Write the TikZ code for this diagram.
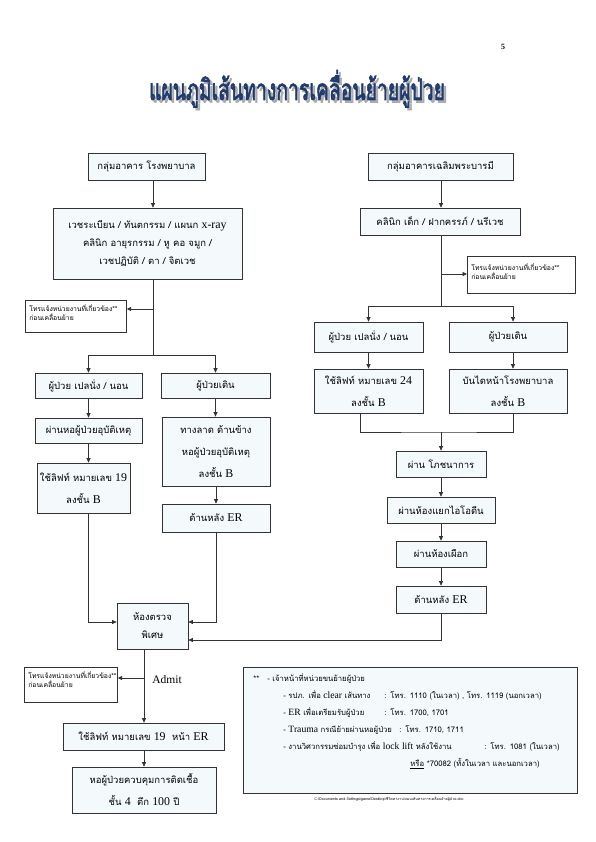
\documentclass[tikz,border=0pt]{standalone}
\usepackage{fontspec}
\setmainfont{Liberation Serif}
\newfontfamily\thaifont[Script=Thai]{Loma}
\newfontfamily\titlefont[Script=Thai, FakeBold=2.5]{Loma}
\newfontfamily\enfont[Scale=1.25]{Liberation Serif}
\newcommand{\en}[1]{{\enfont #1}}
\newcommand{\titletext}{แผนภูมิเส้นทางการเคลื่อนย้ายผู้ป่วย}
\usetikzlibrary{arrows.meta, positioning}

\definecolor{boxfill}{HTML}{F4FAFC}
\definecolor{boxline}{HTML}{333333}
\definecolor{titleblue}{HTML}{1F3A6E}

\begin{document}
\begin{tikzpicture}[
  x=1pt, y=-1pt,
  box/.style={rectangle, draw=boxline, fill=boxfill, line width=0.7pt,
              align=center, inner sep=1pt,
              font=\thaifont\fontsize{9.5}{22}\selectfont},
  note/.style={rectangle, draw=boxline, fill=white, line width=0.7pt,
               align=left, inner sep=4pt, anchor=north west,
               font=\thaifont\fontsize{6.8}{9}\selectfont},
  arr/.style={-{Triangle[length=4.5pt,width=4pt]}, line width=0.7pt, boxline},
  conn/.style={line width=0.7pt, boxline}
]
\useasboundingbox[fill=white] (0,0) rectangle (595,842);

% Title and page number
\node[font=\bfseries\fontsize{8}{8}\selectfont] (pageno) at (503,47) {5};
\node[titleblue, font=\titlefont] (title) at (297,90)
  {\makebox[0pt][l]{\kern2.5pt\raisebox{-2.5pt}{\color{gray!65}\resizebox{296pt}{30pt}{\titletext}}}%
   \resizebox{296pt}{30pt}{\titletext}};

% Left column (hospital building)
\node[box, minimum width=117pt, minimum height=27pt] (hospL) at (146.5,166.5) {กลุ่มอาคาร โรงพยาบาล};
\node[box, minimum width=189pt, minimum height=71pt, font=\thaifont\fontsize{9.5}{18}\selectfont] (deptL) at (147.5,243.5)
  {เวชระเบียน / ทันตกรรม / แผนก \en{x-ray}\\คลินิก อายุรกรรม / หู คอ จมูก /\\เวชปฏิบัติ / ตา / จิตเวช};
\node[note, text width=93pt, text depth=17pt] (noteL1) at (25,300)
  {โทรแจ้งหน่วยงานที่เกี่ยวข้อง**\\ก่อนเคลื่อนย้าย};
\node[box, minimum width=107pt, minimum height=25pt] (patL) at (88.5,385.5) {ผู้ป่วย เปลนั่ง / นอน};
\node[box, minimum width=109pt, minimum height=25pt] (walkL) at (215.5,385.5) {ผู้ป่วยเดิน};
\node[box, minimum width=107pt, minimum height=25pt] (trauL) at (88.5,430.5) {ผ่านหอผู้ป่วยอุบัติเหตุ};
\node[box, minimum width=93pt, minimum height=50pt] (liftL) at (83.5,488) {ใช้ลิฟท์ หมายเลข \en{19}\\ลงชั้น \en{B}};
\node[box, minimum width=108pt, minimum height=69pt] (rampL) at (216,451.5)
  {ทางลาด ด้านข้าง\\หอผู้ป่วยอุบัติเหตุ\\ลงชั้น \en{B}};
\node[box, minimum width=108pt, minimum height=28pt] (erL) at (216,518) {ด้านหลัง \en{ER}};

% Examination room and admission
\node[box, minimum width=71pt, minimum height=46pt, font=\thaifont\fontsize{9.5}{18}\selectfont] (exam) at (152.5,626) {ห้องตรวจ\\พิเศษ};
\node[note, text width=85pt, text depth=20pt] (noteL2) at (24,667)
  {โทรแจ้งหน่วยงานที่เกี่ยวข้อง**\\ก่อนเคลื่อนย้าย};
\node[font=\fontsize{11.5}{12}\selectfont] (admitlbl) at (167,680) {Admit};
\node[box, minimum width=161pt, minimum height=27pt] (liftER) at (143.5,736.5) {ใช้ลิฟท์ หมายเลข \en{19}~~หน้า \en{ER}};
\node[box, minimum width=144pt, minimum height=46pt] (icu) at (144,790)
  {หอผู้ป่วยควบคุมการติดเชื้อ\\ชั้น \en{4}~~ตึก \en{100} ปี};

% Right column (Chaloem Phrabarami building)
\node[box, minimum width=145pt, minimum height=27pt] (hospR) at (440.5,166.5) {กลุ่มอาคารเฉลิมพระบารมี};
\node[box, minimum width=160pt, minimum height=27pt] (deptR) at (440,221.5) {คลินิก เด็ก / ฝากครรภ์ / นรีเวช};
\node[note, text width=100pt, inner sep=4pt, text depth=19pt] (noteR) at (467,256)
  {\rule{0pt}{10pt}โทรแจ้งหน่วยงานที่เกี่ยวข้อง**\\ก่อนเคลื่อนย้าย};
\node[box, minimum width=109pt, minimum height=30pt] (patR) at (368.5,337) {ผู้ป่วย เปลนั่ง / นอน};
\node[box, minimum width=118pt, minimum height=30pt] (walkR) at (508,337) {ผู้ป่วยเดิน};
\node[box, minimum width=109pt, minimum height=44pt] (liftR) at (368.5,391) {ใช้ลิฟท์ หมายเลข \en{24}\\ลงชั้น \en{B}};
\node[box, minimum width=118pt, minimum height=44pt] (stairR) at (508,391) {บันไดหน้าโรงพยาบาล\\ลงชั้น \en{B}};
\node[box, minimum width=90pt, minimum height=26pt] (nutR) at (441,464) {ผ่าน โภชนาการ};
\node[box, minimum width=108pt, minimum height=26pt] (iodR) at (441,510) {ผ่านห้องแยกไอโอดีน};
\node[box, minimum width=90pt, minimum height=26pt] (albR) at (441,554) {ผ่านห้องเผือก};
\node[box, minimum width=90pt, minimum height=27pt] (erR) at (441,599.5) {ด้านหลัง \en{ER}};

% Helper coordinates
\coordinate (lsplit) at (153,355);
\coordinate (lnote) at (153,309);
\coordinate (exin) at (0,622);
\coordinate (exR) at (0,640);
\coordinate (admit) at (144,678);
\coordinate (rsplit) at (441,306);
\coordinate (rnote) at (441,274);
\coordinate (rleft) at (360,0);
\coordinate (rright) at (513,0);
\coordinate (rmerge) at (441,432);

% Left connectors
\draw[arr] (hospL.south -| lsplit) -- (deptL.north -| lsplit);
\draw[conn] (deptL.south -| lsplit) -- (lsplit);
\draw[arr] (lnote) -- (lnote -| noteL1.east);
\draw[arr] (lsplit) -| (patL.north);
\draw[arr] (lsplit) -| (walkL.north);
\draw[arr] (patL) -- (trauL);
\draw[arr] (trauL.south) -- (liftL.north -| trauL.south);
\draw[arr] (walkL.south) -- (walkL.south |- rampL.north);
\draw[arr] (rampL) -- (erL);
\draw[arr] (liftL.south -| trauL.south) |- (exam.west |- exin);
\draw[arr] (erL.south) |- (exam.east |- exin);

% Right connectors
\draw[arr] (hospR.south -| rsplit) -- (deptR.north -| rsplit);
\draw[conn] (deptR.south -| rsplit) -- (rsplit);
\draw[arr] (rnote) -- (rnote -| noteR.west);
\draw[arr] (rsplit) -| (patR.north);
\draw[arr] (rsplit) -| (walkR.north -| rright);
\draw[arr] (patR) -- (liftR);
\draw[arr] (walkR.south -| rright) -- (stairR.north -| rright);
\draw[conn] (liftR.south -| rleft) |- (rmerge) -| (stairR.south -| rright);
\draw[arr] (rmerge) -- (nutR.north);
\draw[arr] (nutR) -- (iodR);
\draw[arr] (iodR) -- (albR);
\draw[arr] (albR) -- (erR);
\draw[arr] (erR.south) |- (exam.east |- exR);

% Admission path
\draw[arr] (exam.south -| admit) -- (liftER.north -| admit);
\draw[arr] (admit) -- (admit -| noteL2.east);
\draw[arr] (liftER.south -| admit) -- (icu.north -| admit);

% Contact key
\node[rectangle, draw=boxline, fill=boxfill, line width=0.7pt, anchor=north west,
      align=left, inner sep=6pt, text width=322pt, text depth=106pt,
      font=\thaifont\fontsize{7.7}{17}\selectfont] (legend) at (243,667)
  {\hspace*{4pt}**\hspace{8pt}- เจ้าหน้าที่หน่วยขนย้ายผู้ป่วย\\
   \hspace*{34pt}- \makebox[96pt][l]{รปภ. เพื่อ \en{clear} เส้นทาง}: โทร. 1110 (ในเวลา) , โทร. 1119 (นอกเวลา)\\
   \hspace*{34pt}- \makebox[96pt][l]{\en{ER} เพื่อเตรียมรับผู้ป่วย}: โทร. 1700, 1701\\
   \hspace*{34pt}- \makebox[111pt][l]{\en{Trauma} กรณีย้ายผ่านหอผู้ป่วย}: โทร. 1710, 1711\\
   \hspace*{34pt}- \makebox[196pt][l]{งานวิศวกรรมซ่อมบำรุง เพื่อ \en{lock lift} หลังใช้งาน}: โทร. 1081 (ในเวลา)\\
   \hspace*{161pt}\underline{หรือ} *70082 (ทั้งในเวลา และนอกเวลา)};

% File path footer
\node[font=\thaifont\fontsize{3.7}{4}\selectfont] (footer) at (389,799)
  {C:\textbackslash Documents and Settings\textbackslash game\textbackslash Desktop\textbackslash ชีวิตทางาน\textbackslash แผนเส้นทางการเคลื่อนย้ายผู้ป่วย.doc};

\end{tikzpicture}
\end{document}
